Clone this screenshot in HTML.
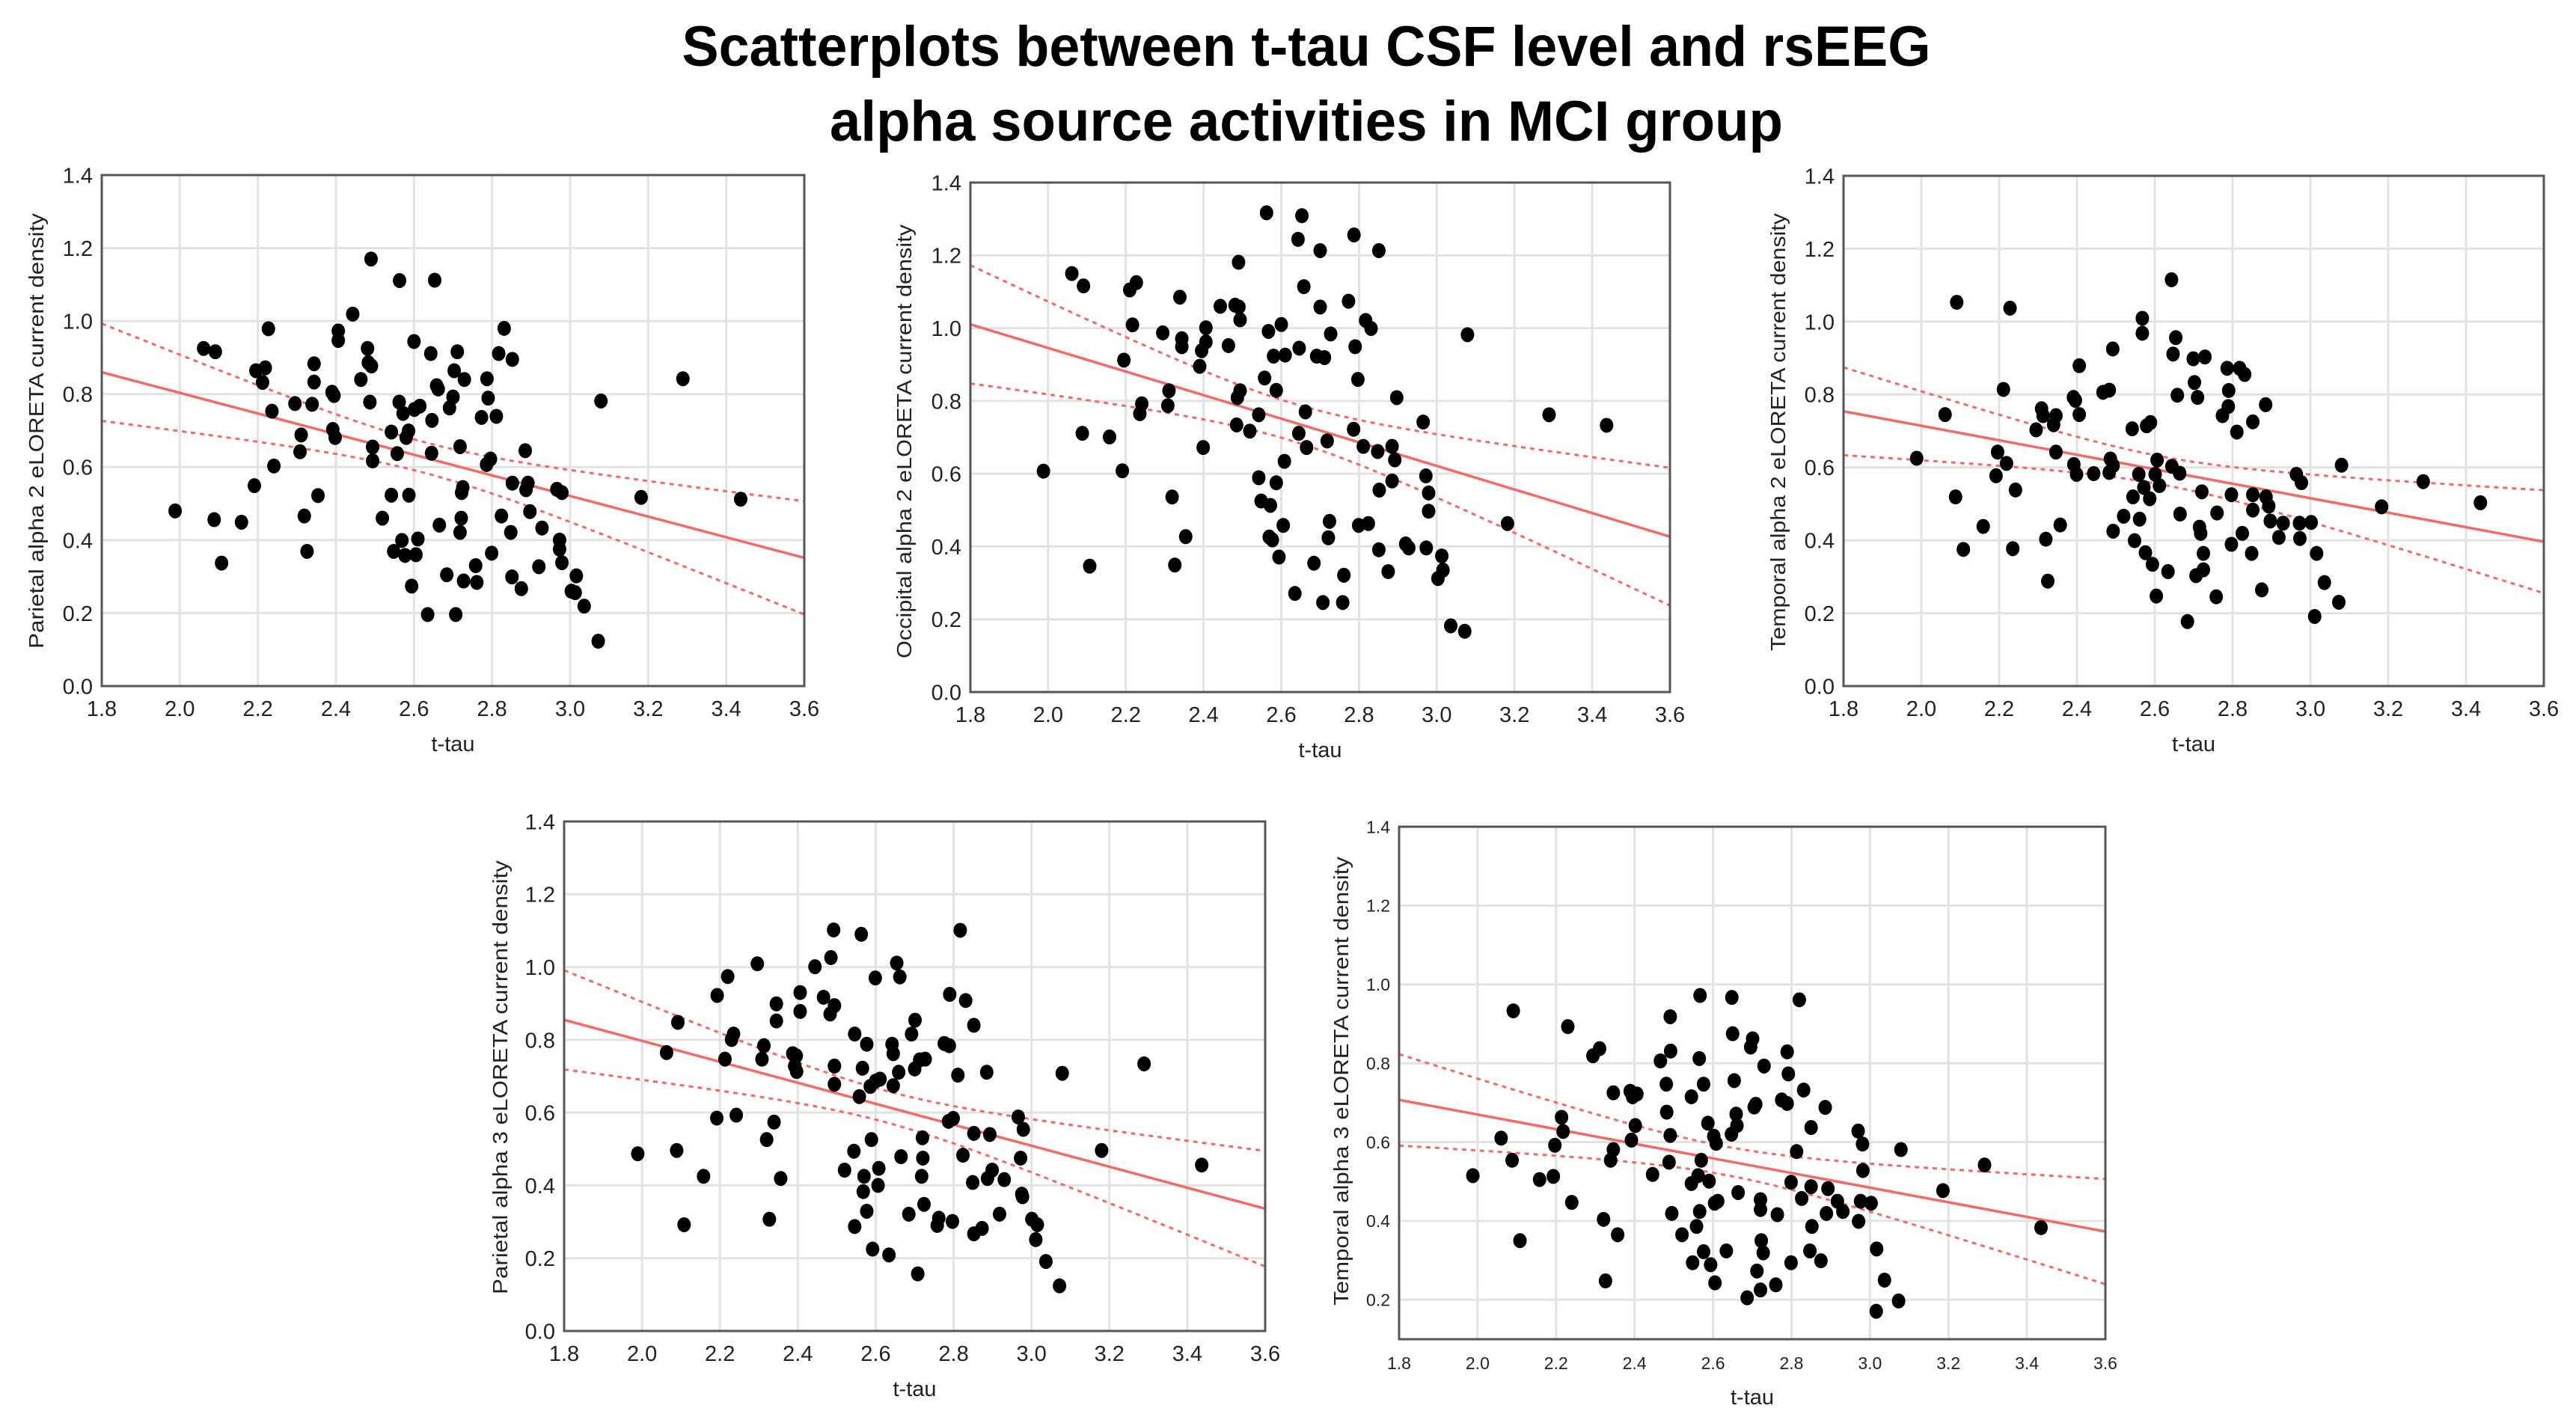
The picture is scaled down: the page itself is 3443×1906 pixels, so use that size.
<!DOCTYPE html>
<html><head><meta charset="utf-8">
<style>
html,body{margin:0;padding:0;background:#fff;}
svg{display:block;font-family:"Liberation Sans",Arial,sans-serif;}
</style></head>
<body>
<svg id="chart" width="3443" height="1906" viewBox="0 0 3443 1906" xmlns="http://www.w3.org/2000/svg">
<rect width="3443" height="1906" fill="#fff"/>
<text x="1746" y="88" text-anchor="middle" font-size="76" font-weight="bold" textLength="1669" lengthAdjust="spacingAndGlyphs" fill="#000">Scatterplots between t-tau CSF level and rsEEG</text>
<text x="1746" y="188" text-anchor="middle" font-size="76" font-weight="bold" textLength="1274" lengthAdjust="spacingAndGlyphs" fill="#000">alpha source activities in MCI group</text>
</svg>
<script>
const xTicks = [1.8,2.0,2.2,2.4,2.6,2.8,3.0,3.2,3.4,3.6];
const xTickLabels = ["1.8","2.0","2.2","2.4","2.6","2.8","3.0","3.2","3.4","3.6"];
const yTicksA = [0,0.2,0.4,0.6,0.8,1.0,1.2,1.4];
const yTickLabelsA = ["0.0","0.2","0.4","0.6","0.8","1.0","1.2","1.4"];
const yTicksB = [0.2,0.4,0.6,0.8,1.0,1.2,1.4];
const yTickLabelsB = ["0.2","0.4","0.6","0.8","1.0","1.2","1.4"];

const p1x = [1.988,2.061,2.091,2.088,2.107,2.158,2.191,2.195,2.219,2.212,2.227,2.236,2.241,2.295,2.311,2.308,2.319,2.326,2.339,2.344,2.344,2.354,2.390,2.395,2.392,2.398,2.406,2.406,2.443,2.464,2.481,2.483,2.491,2.490,2.487,2.494,2.494,2.519,2.542,2.542,2.548,2.557,2.562,2.563,2.569,2.572,2.577,2.580,2.586,2.587,2.594,2.600,2.601,2.605,2.610,2.615,2.635,2.643,2.646,2.645,2.653,2.658,2.662,2.665,2.684,2.691,2.700,2.703,2.707,2.711,2.718,2.718,2.721,2.722,2.725,2.727,2.729,2.758,2.761,2.773,2.787,2.790,2.786,2.796,2.799,2.811,2.817,2.824,2.831,2.848,2.851,2.852,2.852,2.875,2.885,2.887,2.892,2.897,2.920,2.928,2.966,2.973,2.973,2.979,2.979,3.003,3.013,3.016,3.036,3.072,3.079,3.182,3.289,3.437];
const p1y = [0.480,0.925,0.916,0.456,0.337,0.449,0.549,0.864,0.872,0.832,0.979,0.753,0.603,0.774,0.688,0.642,0.466,0.369,0.772,0.883,0.833,0.522,0.805,0.796,0.703,0.681,0.973,0.947,1.019,0.840,0.925,0.886,0.877,1.170,0.778,0.655,0.617,0.460,0.696,0.523,0.369,0.637,0.778,1.111,0.399,0.747,0.358,0.681,0.699,0.523,0.274,0.944,0.758,0.360,0.403,0.767,0.196,0.911,0.728,0.638,1.112,0.823,0.814,0.441,0.305,0.762,0.792,0.864,0.196,0.916,0.656,0.421,0.460,0.530,0.544,0.288,0.840,0.330,0.284,0.736,0.842,0.789,0.607,0.622,0.364,0.739,0.911,0.466,0.980,0.421,0.299,0.895,0.556,0.267,0.645,0.538,0.556,0.478,0.327,0.433,0.539,0.400,0.375,0.338,0.530,0.260,0.256,0.302,0.219,0.123,0.781,0.517,0.842,0.512];

const p2x = [1.988,2.061,2.091,2.088,2.107,2.158,2.191,2.195,2.210,2.227,2.217,2.236,2.241,2.295,2.311,2.308,2.319,2.326,2.339,2.344,2.344,2.354,2.390,2.395,2.399,2.406,2.406,2.443,2.464,2.481,2.491,2.490,2.487,2.494,2.485,2.494,2.519,2.542,2.542,2.548,2.557,2.562,2.569,2.572,2.567,2.577,2.580,2.587,2.587,2.594,2.600,2.605,2.608,2.610,2.635,2.643,2.646,2.645,2.653,2.658,2.662,2.665,2.684,2.691,2.700,2.700,2.707,2.711,2.718,2.721,2.724,2.727,2.758,2.761,2.773,2.787,2.790,2.786,2.797,2.799,2.811,2.817,2.824,2.831,2.848,2.851,2.851,2.852,2.875,2.885,2.885,2.892,2.897,2.920,2.928,2.965,2.972,2.973,2.979,2.979,3.003,3.013,3.016,3.036,3.072,3.079,3.182,3.289,3.437];
const p2y = [0.607,1.150,1.116,0.711,0.346,0.701,0.608,0.912,1.105,1.125,1.009,0.765,0.792,0.987,0.828,0.787,0.536,0.349,1.085,0.971,0.949,0.427,0.895,0.938,0.672,1.001,0.962,1.060,0.952,1.063,1.058,1.181,0.809,0.828,0.734,1.023,0.717,0.762,0.589,0.525,0.863,1.317,0.426,0.513,0.991,0.418,0.923,0.575,0.829,0.371,1.010,0.458,0.634,0.926,0.271,1.244,0.945,0.711,1.309,1.114,0.770,0.672,0.354,0.923,1.058,1.213,0.246,0.919,0.690,0.424,0.469,0.984,0.246,0.321,1.074,1.256,0.949,0.722,0.859,0.458,0.675,1.021,0.463,0.999,0.661,0.391,1.213,0.555,0.331,0.675,0.580,0.638,0.809,0.407,0.396,0.742,0.594,0.396,0.547,0.497,0.312,0.374,0.335,0.182,0.167,0.982,0.463,0.762,0.733];

const p3x = [1.988,2.061,2.091,2.088,2.108,2.159,2.192,2.196,2.211,2.219,2.228,2.235,2.242,2.295,2.309,2.313,2.320,2.325,2.340,2.346,2.346,2.357,2.391,2.396,2.392,2.399,2.406,2.406,2.443,2.467,2.483,2.483,2.486,2.492,2.493,2.493,2.520,2.542,2.544,2.548,2.559,2.568,2.568,2.561,2.572,2.576,2.579,2.587,2.589,2.594,2.601,2.604,2.606,2.612,2.634,2.643,2.647,2.644,2.654,2.658,2.664,2.665,2.684,2.699,2.702,2.706,2.710,2.715,2.718,2.721,2.725,2.725,2.729,2.758,2.760,2.774,2.786,2.789,2.790,2.797,2.797,2.811,2.818,2.825,2.831,2.849,2.852,2.852,2.852,2.875,2.885,2.886,2.893,2.897,2.919,2.930,2.964,2.973,2.977,2.972,3.002,3.011,3.016,3.036,3.073,3.080,3.183,3.290,3.437];
const p3y = [0.625,0.745,1.053,0.519,0.375,0.438,0.577,0.642,0.814,0.611,1.037,0.377,0.538,0.703,0.761,0.742,0.403,0.288,0.717,0.742,0.642,0.442,0.792,0.784,0.608,0.581,0.879,0.745,0.583,0.806,0.812,0.586,0.623,0.925,0.605,0.425,0.466,0.706,0.519,0.399,0.581,0.968,1.009,0.458,0.545,0.366,0.714,0.514,0.723,0.334,0.581,0.247,0.620,0.550,0.314,1.115,0.911,0.603,0.956,0.798,0.584,0.472,0.177,0.898,0.833,0.303,0.792,0.436,0.419,0.533,0.364,0.319,0.903,0.245,0.475,0.742,0.872,0.767,0.811,0.525,0.389,0.697,0.872,0.419,0.855,0.364,0.725,0.525,0.483,0.264,0.772,0.519,0.494,0.453,0.408,0.447,0.581,0.405,0.558,0.447,0.449,0.191,0.364,0.284,0.230,0.606,0.492,0.561,0.503];

const p4x = [1.989,2.063,2.092,2.089,2.108,2.158,2.193,2.192,2.213,2.220,2.230,2.235,2.242,2.296,2.313,2.308,2.320,2.327,2.339,2.345,2.345,2.356,2.387,2.396,2.392,2.397,2.406,2.406,2.444,2.466,2.483,2.485,2.492,2.494,2.494,2.494,2.520,2.544,2.546,2.558,2.546,2.563,2.570,2.566,2.568,2.577,2.577,2.586,2.589,2.592,2.599,2.600,2.606,2.608,2.611,2.634,2.642,2.645,2.645,2.654,2.659,2.662,2.665,2.685,2.692,2.701,2.700,2.708,2.713,2.718,2.720,2.721,2.724,2.727,2.758,2.762,2.776,2.789,2.790,2.787,2.799,2.797,2.811,2.817,2.824,2.831,2.849,2.852,2.852,2.852,2.873,2.885,2.887,2.893,2.899,2.918,2.930,2.966,2.972,2.975,2.977,2.979,3.001,3.015,3.011,3.037,3.072,3.079,3.180,3.289,3.437];
const p4y = [0.487,0.765,0.848,0.496,0.292,0.425,0.922,0.585,0.747,0.974,0.801,0.816,0.593,1.009,0.784,0.747,0.526,0.307,0.574,0.899,0.852,0.419,0.762,0.756,0.728,0.713,0.930,0.878,1.001,0.917,0.871,1.026,1.102,0.894,0.728,0.678,0.442,0.494,0.287,0.644,0.816,1.090,0.425,0.722,0.383,0.329,0.788,0.672,0.526,0.225,0.970,0.687,0.400,0.447,0.692,0.209,0.788,0.762,0.674,1.011,0.711,0.973,0.479,0.321,0.816,0.854,0.720,0.157,0.745,0.425,0.531,0.475,0.348,0.747,0.290,0.310,0.790,0.784,0.925,0.576,0.584,0.301,0.703,1.101,0.483,0.908,0.408,0.267,0.840,0.543,0.282,0.711,0.419,0.540,0.442,0.321,0.416,0.588,0.475,0.376,0.369,0.554,0.307,0.292,0.251,0.191,0.124,0.708,0.496,0.734,0.456];

const p5x = [1.988,2.060,2.091,2.088,2.108,2.158,2.193,2.197,2.214,2.218,2.230,2.240,2.294,2.311,2.321,2.326,2.339,2.346,2.346,2.357,2.389,2.395,2.392,2.402,2.406,2.446,2.466,2.481,2.482,2.491,2.492,2.491,2.488,2.495,2.521,2.545,2.545,2.548,2.558,2.562,2.565,2.567,2.566,2.570,2.576,2.576,2.590,2.587,2.594,2.602,2.604,2.605,2.608,2.612,2.634,2.648,2.650,2.647,2.654,2.659,2.661,2.664,2.687,2.696,2.701,2.705,2.709,2.712,2.721,2.721,2.723,2.728,2.721,2.730,2.760,2.764,2.775,2.789,2.792,2.789,2.799,2.799,2.813,2.820,2.826,2.831,2.850,2.850,2.852,2.847,2.875,2.886,2.889,2.893,2.917,2.931,2.970,2.971,2.976,2.981,2.982,3.003,3.017,3.016,3.037,3.073,3.079,3.186,3.292,3.436];
const p5y = [0.515,0.610,0.933,0.554,0.350,0.505,0.513,0.592,0.663,0.627,0.893,0.447,0.819,0.837,0.404,0.248,0.554,0.725,0.581,0.365,0.729,0.715,0.605,0.642,0.722,0.518,0.806,0.747,0.676,0.918,0.831,0.617,0.549,0.419,0.365,0.715,0.495,0.294,0.386,0.515,0.812,0.972,0.424,0.554,0.747,0.322,0.501,0.648,0.289,0.615,0.445,0.243,0.597,0.450,0.324,0.967,0.875,0.620,0.756,0.671,0.642,0.472,0.205,0.841,0.862,0.689,0.696,0.273,0.454,0.429,0.350,0.319,0.225,0.793,0.238,0.416,0.707,0.829,0.773,0.698,0.498,0.294,0.576,0.961,0.457,0.732,0.637,0.487,0.386,0.324,0.299,0.688,0.419,0.482,0.450,0.424,0.628,0.399,0.450,0.595,0.528,0.445,0.329,0.171,0.250,0.197,0.581,0.477,0.542,0.383];

const NS = "http://www.w3.org/2000/svg";
const svg = document.getElementById('chart');
function mk(tag, attrs, parent) {
  const e = document.createElementNS(NS, tag);
  for (const k in attrs) e.setAttribute(k, attrs[k]);
  (parent || svg).appendChild(e);
  return e;
}

function drawPlot(cfg) {
  const g = mk('g', {});
  
  
  const xs = v => cfg.L + (v - 1.8) / 1.8 * (cfg.R - cfg.L);
  const ys = v => cfg.B - (v - cfg.ymin) / (1.4 - cfg.ymin) * (cfg.B - cfg.T);
  // gridlines
  xTicks.forEach((t, i) => {
    const l = mk('line', {x1: xs(t), x2: xs(t), y1: cfg.T, y2: cfg.B, stroke: '#e2e2e2', 'stroke-width': 3}, g);
    
    
    const tx = mk('text', {x: xs(t), y: cfg.B + 40, 'text-anchor': 'middle', 'font-size': cfg.fs, fill: '#222'}, g);
    
    
    tx.textContent = xTickLabels[i];
  });
  cfg.yt.forEach((t, i) => {
    const l = mk('line', {x1: cfg.L, x2: cfg.R, y1: ys(t), y2: ys(t), stroke: '#e2e2e2', 'stroke-width': 3}, g);
    
    
    const tx = mk('text', {x: cfg.L - 12, y: ys(t) + cfg.fs * 0.36, 'text-anchor': 'end', 'font-size': cfg.fs, fill: '#222'}, g);
    
    
    tx.textContent = cfg.ytl[i];
  });
  // regression
  const X = cfg.x, Y = cfg.y, n = X.length;
  let mx = 0, my = 0;
  for (let i = 0; i < n; i++) { mx += X[i]; my += Y[i]; }
  mx /= n; my /= n;
  let sxx = 0, sxy = 0;
  for (let i = 0; i < n; i++) { sxx += (X[i]-mx)*(X[i]-mx); sxy += (X[i]-mx)*(Y[i]-my); }
  const b = sxy / sxx, a = my - b * mx;
  let sse = 0;
  for (let i = 0; i < n; i++) { const r = Y[i] - (a + b * X[i]); sse += r * r; }
  const s = Math.sqrt(sse / (n - 2)), tcrit = 1.98;
  const clip = 'clip-' + cfg.name;
  const cp = mk('clipPath', {id: clip}, g);
  mk('rect', {x: cfg.L, y: cfg.T, width: cfg.R - cfg.L, height: cfg.B - cfg.T}, cp);
  const fit = mk('line', {x1: xs(1.8), y1: ys(a + b * 1.8), x2: xs(3.6), y2: ys(a + b * 3.6), stroke: '#f26a6a', 'stroke-width': 3.5, 'clip-path': 'url(#' + clip + ')'}, g);
  
  
  [1, -1].forEach(sign => {
    let d = '';
    for (let k = 0; k <= 60; k++) {
      const xv = 1.8 + 1.8 * k / 60;
      const se = s * Math.sqrt(1 / n + (xv - mx) * (xv - mx) / sxx);
      const yv = a + b * xv + sign * tcrit * se;
      d += (k ? 'L' : 'M') + xs(xv).toFixed(1) + ',' + ys(yv).toFixed(1);
    }
    const p = mk('path', {d: d, fill: 'none', stroke: '#f26a6a', 'stroke-width': 3, 'stroke-dasharray': '6 6', 'clip-path': 'url(#' + clip + ')'}, g);
    
    
  });
  // points
  for (let i = 0; i < n; i++) {
    const c = mk('ellipse', {cx: xs(X[i]), cy: ys(Y[i]), rx: 9, ry: 10, fill: '#000'}, g);
    
    
  }
  // frame
  const fr = mk('rect', {x: cfg.L, y: cfg.T, width: cfg.R - cfg.L, height: cfg.B - cfg.T, fill: 'none', stroke: '#555', 'stroke-width': 3}, g);
  
  
  // axis titles
  const xl = mk('text', {x: (cfg.L + cfg.R) / 2, y: cfg.B + 87, 'text-anchor': 'middle', 'font-size': 29, fill: '#222'}, g);
  
  
  xl.textContent = 't-tau';
  const yc = (cfg.y1 + cfg.y2) / 2;
  const yl = mk('text', {x: cfg.ylx, y: yc, 'text-anchor': 'middle', 'font-size': 28, fill: '#222', transform: 'rotate(-90 ' + cfg.ylx + ' ' + yc + ')', textLength: cfg.y2 - cfg.y1, lengthAdjust: 'spacingAndGlyphs'}, g);
  
  
  yl.textContent = cfg.ylabel;
}

drawPlot({name: 'plot-parietal-alpha2', L: 136, R: 1075, T: 234, B: 917, ymin: 0, yt: yTicksA, ytl: yTickLabelsA, fs: 29, x: p1x, y: p1y, ylx: 58, y1: 285, y2: 867, ylabel: 'Parietal alpha 2 eLORETA current density'});
drawPlot({name: 'plot-occipital-alpha2', L: 1297, R: 2232, T: 244, B: 925, ymin: 0, yt: yTicksA, ytl: yTickLabelsA, fs: 29, x: p2x, y: p2y, ylx: 1218, y1: 300, y2: 880, ylabel: 'Occipital alpha 2 eLORETA current density'});
drawPlot({name: 'plot-temporal-alpha2', L: 2464, R: 3400, T: 235, B: 917, ymin: 0, yt: yTicksA, ytl: yTickLabelsA, fs: 29, x: p3x, y: p3y, ylx: 2386, y1: 285, y2: 870, ylabel: 'Temporal alpha 2 eLORETA current density'});
drawPlot({name: 'plot-parietal-alpha3', L: 754, R: 1691, T: 1098, B: 1779, ymin: 0, yt: yTicksA, ytl: yTickLabelsA, fs: 29, x: p4x, y: p4y, ylx: 678, y1: 1150, y2: 1730, ylabel: 'Parietal alpha 3 eLORETA current density'});
drawPlot({name: 'plot-temporal-alpha3', L: 1870, R: 2814, T: 1105, B: 1790, ymin: 0.1, yt: yTicksB, ytl: yTickLabelsB, fs: 23, x: p5x, y: p5y, ylx: 1802, y1: 1145, y2: 1745, ylabel: 'Temporal alpha 3 eLORETA current density'});
</script>
</body></html>
